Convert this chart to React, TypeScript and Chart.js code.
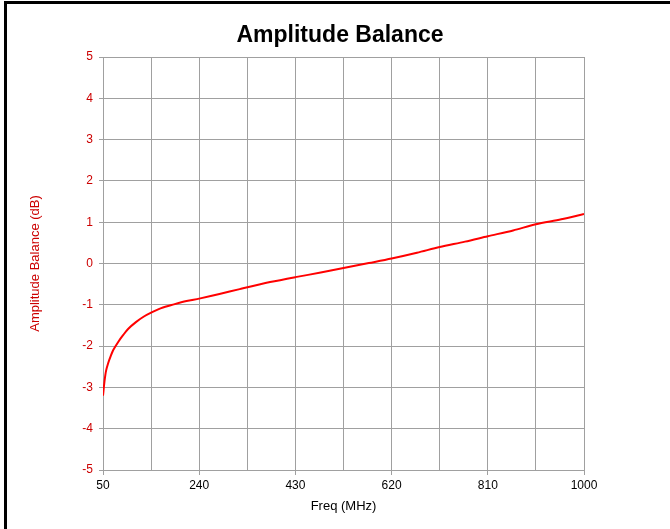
import React, { useEffect, useRef } from "react";
import { Chart, registerables } from "chart.js";

Chart.register(...registerables);

const titleText = "Amplitude Balance";
const xTitle = "Freq (MHz)";
const yTitle = "Amplitude Balance (dB)";

const freqs = [50, 53, 56, 60, 65, 70, 80, 90, 100, 115, 130, 145, 165, 190, 215, 240, 280, 320, 380, 430, 480, 525, 575, 620, 670, 715, 765, 810, 860, 905, 955, 1000];
const balance = [-3.2, -2.85, -2.6, -2.42, -2.25, -2.1, -1.9, -1.73, -1.58, -1.42, -1.29, -1.19, -1.08, -0.99, -0.91, -0.85, -0.74, -0.62, -0.45, -0.33, -0.22, -0.11, 0.01, 0.12, 0.26, 0.4, 0.53, 0.66, 0.8, 0.95, 1.07, 1.2];

const xMin = 50;
const xMax = 1000;
const xStep = 95;
const yMin = -5;
const yMax = 5;
const yStep = 1;

const FONT = "'Liberation Sans', Arial, sans-serif";
const RED = "#cc0000";
const GRID = "#a0a0a0";

const titlePlugin = {
  id: "customTitle",
  afterDraw(chart: any) {
    const ctx = chart.ctx;
    ctx.save();
    ctx.font = `bold 23px ${FONT}`;
    ctx.fillStyle = "#000";
    ctx.textAlign = "center";
    ctx.textBaseline = "alphabetic";
    ctx.fillText(titleText, 340, 42);
    ctx.restore();
  },
};

export default function App() {
  const ref = useRef<HTMLCanvasElement | null>(null);

  useEffect(() => {
    if (!ref.current) return;
    const chart = new Chart(ref.current, {
      type: "line",
      data: {
        datasets: [
          {
            data: freqs.map((f, i) => ({ x: f, y: balance[i] })),
            borderColor: "#ff0000",
            borderWidth: 2,
            pointRadius: 0,
            tension: 0.3,
            fill: false,
          },
        ],
      },
      plugins: [titlePlugin],
      options: {
        animation: false,
        responsive: true,
        maintainAspectRatio: false,
        layout: { padding: { top: 57, right: 86, bottom: 0, left: 0 } },
        plugins: {
          legend: { display: false },
          title: { display: false },
          tooltip: { enabled: false },
        },
        scales: {
          x: {
            type: "linear",
            min: xMin,
            max: xMax,
            afterFit: (s: any) => {
              s.height = 59;
            },
            ticks: {
              stepSize: xStep,
              autoSkip: false,
              maxRotation: 0,
              padding: 3,
              color: "#000",
              font: { family: FONT, size: 12 },
              callback: (v: any, i: number) => (i % 2 === 0 ? String(v) : ""),
            },
            grid: {
              color: GRID,
              lineWidth: 1,
              tickLength: 5,
              tickColor: (c: any) => (c.index % 2 === 0 ? GRID : "rgba(0,0,0,0)"),
            },
            border: { color: GRID, width: 1 },
            title: {
              display: true,
              text: xTitle,
              color: "#000",
              font: { family: FONT, size: 13 },
              padding: { top: 0, bottom: 15 },
            },
          },
          y: {
            type: "linear",
            min: yMin,
            max: yMax,
            afterFit: (s: any) => {
              s.width = 103;
            },
            ticks: {
              stepSize: yStep,
              padding: 6,
              color: RED,
              font: { family: FONT, size: 12 },
            },
            grid: {
              color: GRID,
              lineWidth: 1,
              tickLength: 4,
              tickColor: GRID,
            },
            border: { color: GRID, width: 1 },
            title: {
              display: true,
              text: yTitle,
              color: RED,
              font: { family: FONT, size: 13 },
              padding: { top: 28, bottom: 0 },
            },
          },
        },
      },
    });
    return () => chart.destroy();
  }, []);

  return (
    <div
      style={{
        position: "fixed",
        left: 0,
        top: 0,
        width: 670,
        height: 529,
        overflow: "hidden",
        background: "#fff",
      }}
    >
      <div
        style={{
          position: "absolute",
          left: 4,
          top: 1,
          width: 800,
          height: 700,
          border: "3px solid #000",
          boxSizing: "border-box",
        }}
      />
      <div style={{ position: "absolute", left: 0, top: 0, width: 670, height: 529 }}>
        <canvas ref={ref} />
      </div>
    </div>
  );
}
